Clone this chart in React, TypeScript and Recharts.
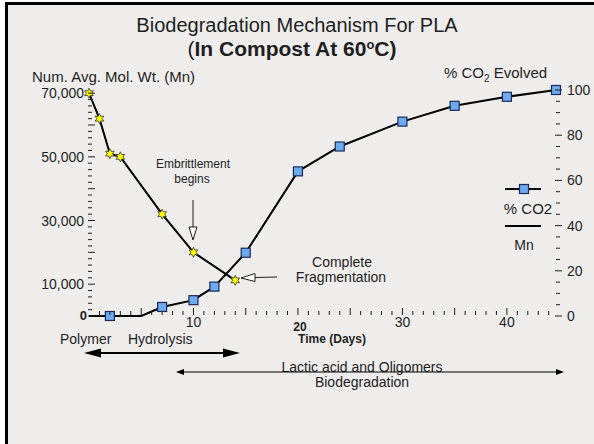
import React from "react";
import { ComposedChart, Line, XAxis, YAxis } from "recharts";

// ---- data ----
const mnDays = [0, 1, 2, 3, 7, 10, 14];
const mnValues = [70000, 62000, 51000, 50000, 32000, 20000, 11200];

const co2Days = [0, 2, 5, 7, 10, 12, 15, 20, 24, 30, 35, 40, 44.7];
const co2Values = [0, 0, 0, 4, 7, 13, 28, 64, 75, 86, 93, 97, 100];
const co2Marked = [false, true, false, true, true, true, true, true, true, true, true, true, true];

const xTicks = Array.from({ length: 45 }, (_, i) => i);
const xLabels = [10, 30, 40];
const mnTicks = Array.from({ length: 36 }, (_, i) => i * 2000);
const mnLabels = [10000, 30000, 50000, 70000];
const co2Ticks = Array.from({ length: 21 }, (_, i) => i * 5);
const co2Labels = [0, 20, 40, 60, 80, 100];

const mnData = mnDays.map((d, i) => ({ day: d, v: mnValues[i] }));
const co2Data = co2Days.map((d, i) => ({ day: d, v: co2Values[i], m: co2Marked[i] }));

const FONT = "'Liberation Sans', Arial, Helvetica, sans-serif";
const INK = "#1e1e1e";
const BG = "#eeedeb";

const fmt = (v: number) => v.toLocaleString("en-US");

const XTick = (props: any) => {
  const { x, y, payload } = props;
  const v = payload.value as number;
  if (v === 0) return <g />;
  const major = v % 5 === 0;
  return (
    <g>
      <line x1={x} x2={x} y1={y - (major ? 8 : 5)} y2={y - 1} stroke={INK} strokeWidth={1} />
      {xLabels.includes(v) && (
        <text x={x} y={y + 11} textAnchor="middle" fontSize={14} fill={INK} fontFamily={FONT}>
          {v}
        </text>
      )}
      {v === 20 && (
        <text x={x + 2} y={y + 15} textAnchor="middle" fontSize={12} fontWeight="bold" fill={INK} fontFamily={FONT}>
          20
        </text>
      )}
    </g>
  );
};

const LTick = (props: any) => {
  const { x, y, payload } = props;
  const v = payload.value as number;
  const major = v % 10000 === 0;
  return (
    <g>
      {major ? (
        <line x1={x - 1} x2={x + 6} y1={y} y2={y} stroke={INK} strokeWidth={1} />
      ) : (
        <line x1={x - 1} x2={x + 3} y1={y} y2={y} stroke={INK} strokeWidth={1} />
      )}
      {mnLabels.includes(v) && (
        <text x={x - 5} y={y + 5} textAnchor="end" fontSize={14} fill={INK} fontFamily={FONT}>
          {fmt(v)}
        </text>
      )}
      {v === 0 && (
        <text x={x - 2} y={y + 4} textAnchor="end" fontSize={13} fontWeight="bold" fill={INK} fontFamily={FONT}>
          0
        </text>
      )}
    </g>
  );
};

const RTick = (props: any) => {
  const { x, y, payload } = props;
  const v = payload.value as number;
  const major = v % 20 === 0;
  return (
    <g>
      {major ? (
        <line x1={x - 1} x2={x + 6} y1={y} y2={y} stroke={INK} strokeWidth={1} />
      ) : (
        <line x1={x} x2={x + 4} y1={y} y2={y} stroke={INK} strokeWidth={1} />
      )}
      {co2Labels.includes(v) && (
        <text x={x + 11} y={y + 5} textAnchor="start" fontSize={14} fill={INK} fontFamily={FONT}>
          {v}
        </text>
      )}
    </g>
  );
};

const starPoints = (cx: number, cy: number, ro: number, ri: number, n: number) => {
  const pts: string[] = [];
  for (let i = 0; i < n * 2; i++) {
    const r = i % 2 === 0 ? ro : ri;
    const a = (Math.PI * i) / n - Math.PI / 2;
    pts.push(`${cx + r * Math.cos(a)},${cy + r * Math.sin(a)}`);
  }
  return pts.join(" ");
};

const StarDot = (props: any) => {
  const { cx, cy, index } = props;
  if (cx == null || cy == null) return <g key={`s${index}`} />;
  return (
    <polygon
      key={`s${index}`}
      points={starPoints(cx, cy, 5, 2.6, 6)}
      fill="#ffff00"
      stroke="#333"
      strokeWidth={0.8}
    />
  );
};

const SquareDot = (props: any) => {
  const { cx, cy, index, payload } = props;
  if (cx == null || cy == null || !payload?.m) return <g key={`q${index}`} />;
  return (
    <rect key={`q${index}`} x={cx - 4.5} y={cy - 4.5} width={9} height={9} fill="#6eaaf0" stroke="#1b2b55" strokeWidth={1.2} />
  );
};

const Overlay = () => (
  <svg
    width={594}
    height={444}
    style={{ position: "absolute", left: 0, top: 0, pointerEvents: "none" }}
    fontFamily={FONT}
  >
    {/* title */}
    <text x={297} y={32} textAnchor="middle" fontSize={20} fill={INK}>
      Biodegradation Mechanism For PLA
    </text>
    <text x={292} y={56} textAnchor="middle" fontSize={21} fill={INK}>
      (<tspan fontWeight="bold">In Compost At 60</tspan>
      <tspan fontWeight="bold" fontSize={13} dy={-7}>o</tspan>
      <tspan fontWeight="bold" dy={7}>C)</tspan>
    </text>
    {/* axis titles */}
    <text x={32} y={82} fontSize={15} fill={INK}>
      Num. Avg. Mol. Wt. (Mn)
    </text>
    <text x={444} y={78} fontSize={15} fill={INK}>
      % CO<tspan fontSize={10} dy={4}>2</tspan>
      <tspan dy={-4}> Evolved</tspan>
    </text>
    <text x={332} y={343} textAnchor="middle" fontSize={12} fontWeight="bold" fill={INK}>
      Time (Days)
    </text>

    {/* Embrittlement annotation */}
    <text x={193} y={168} textAnchor="middle" fontSize={12} fill={INK}>
      Embrittlement
    </text>
    <text x={192} y={183} textAnchor="middle" fontSize={12} fill={INK}>
      begins
    </text>
    <line x1={193} y1={200} x2={193} y2={227} stroke={INK} strokeWidth={1} />
    <polygon points="189,227 197,227 193,240" fill="#ffffff" stroke={INK} strokeWidth={1} />

    {/* Complete Fragmentation annotation */}
    <text x={342} y={267} textAnchor="middle" fontSize={14} fill={INK}>
      Complete
    </text>
    <text x={341} y={282} textAnchor="middle" fontSize={14} fill={INK}>
      Fragmentation
    </text>
    <line x1={277} y1={277} x2={255} y2={277.5} stroke={INK} strokeWidth={1} />
    <polygon points="255,273.5 255,281.5 241,278" fill="#ffffff" stroke={INK} strokeWidth={1} />

    {/* legend */}
    <line x1={505} y1={189} x2={541} y2={189} stroke="#000" strokeWidth={2} />
    <rect x={519.5} y={184.5} width={9} height={9} fill="#6eaaf0" stroke="#1b2b55" strokeWidth={1.2} />
    <text x={528} y={214} textAnchor="middle" fontSize={15} fill={INK}>
      % CO2
    </text>
    <line x1={505} y1={226} x2={541} y2={226} stroke="#000" strokeWidth={2} />
    <text x={524} y={250} textAnchor="middle" fontSize={14} fill={INK}>
      Mn
    </text>

    {/* bottom phases */}
    <text x={60} y={344} fontSize={14} fill={INK}>
      Polymer
    </text>
    <text x={128} y={344} fontSize={14} fill={INK}>
      Hydrolysis
    </text>
    <line x1={96} y1={353} x2={228} y2={353} stroke="#000" strokeWidth={2} />
    <polygon points="84,353 101,348.5 101,357.5" fill="#000" />
    <polygon points="240,353 223,348.5 223,357.5" fill="#000" />

    <text x={362} y={372} textAnchor="middle" fontSize={14} fill={INK}>
      Lactic acid and Oligomers
    </text>
    <text x={362} y={387} textAnchor="middle" fontSize={14} fill={INK}>
      Biodegradation
    </text>
    <line x1={182} y1={372} x2={558} y2={372} stroke="#000" strokeWidth={1} />
    <polygon points="176,372 184,369 184,375" fill="#000" />
    <polygon points="564,372 556,369 556,375" fill="#000" />
  </svg>
);

export default function App() {
  return (
    <div style={{ position: "absolute", left: 0, top: 0, width: 594, height: 444, background: "#ffffff", overflow: "hidden" }}>
      <div
        style={{
          position: "absolute",
          left: 5,
          top: 2,
          width: 589,
          height: 442,
          background: BG,
          borderLeft: "3px solid #000",
          borderTop: "3px solid #000",
          boxSizing: "border-box",
        }}
      />
      <div style={{ position: "absolute", left: 0, top: 0 }}>
        <ComposedChart width={594} height={444} margin={{ top: 90, right: 0, bottom: 98, left: 0 }}>
          <XAxis
            type="number"
            dataKey="day"
            domain={[0, 44.7]}
            ticks={xTicks}
            interval={0}
            axisLine={false}
            tickLine={false}
            tickSize={0}
            tickMargin={0}
            height={30}
            tick={<XTick />}
            allowDuplicatedCategory={false}
          />
          <YAxis
            yAxisId="mn"
            orientation="left"
            type="number"
            domain={[0, 71000]}
            ticks={mnTicks}
            interval={0}
            axisLine={false}
            tickLine={false}
            tickSize={0}
            tickMargin={0}
            width={89}
            tick={<LTick />}
          />
          <YAxis
            yAxisId="co2"
            orientation="right"
            type="number"
            domain={[0, 100]}
            ticks={co2Ticks}
            interval={0}
            axisLine={false}
            tickLine={false}
            tickSize={0}
            tickMargin={0}
            width={38}
            tick={<RTick />}
          />
          <Line
            yAxisId="co2"
            data={co2Data}
            dataKey="v"
            type="linear"
            stroke="#000"
            strokeWidth={2}
            dot={(p: any) => <SquareDot {...p} key={`q${p.index}`} />}
            activeDot={false}
            isAnimationActive={false}
          />
          <Line
            yAxisId="mn"
            data={mnData}
            dataKey="v"
            type="linear"
            stroke="#000"
            strokeWidth={2}
            dot={(p: any) => <StarDot {...p} key={`s${p.index}`} />}
            activeDot={false}
            isAnimationActive={false}
          />
        </ComposedChart>
      </div>
      <Overlay />
    </div>
  );
}
